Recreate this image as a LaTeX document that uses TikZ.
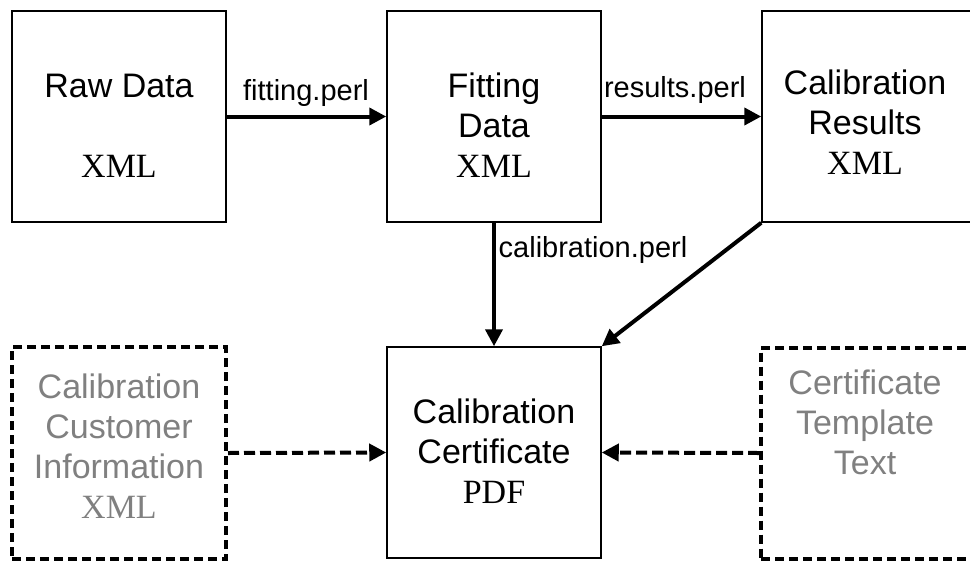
\documentclass[tikz,border=0pt]{standalone}
\usepackage{fontspec}
\setmainfont{Liberation Sans}
\newfontfamily\serifxml{Liberation Serif}
\usetikzlibrary{arrows.meta}
\definecolor{ghost}{HTML}{808080}

\begin{document}
\begin{tikzpicture}[x=1pt,y=-1pt,
    box/.style={draw,line width=1.5pt,minimum width=214pt,minimum height=211pt,inner sep=0pt},
    extbox/.style={box,line width=4pt,dash pattern=on 9pt off 5pt},
    txt/.style={align=center,font=\fontsize{34}{40}\selectfont},
    lbl/.style={font=\fontsize{29}{33}\selectfont},
    flow/.style={line width=4pt,-{Triangle[length=17pt,width=17pt]}},
    extflow/.style={flow,dash pattern=on 11pt off 5pt}]
        \useasboundingbox (0,0) rectangle (970,563);
        % boxes
        \node[box] (raw) at (119,116.5){};
        \node[box] (fit) at (494,116.5){};
        \node[box,minimum width=210pt] (res) at (867,116.5){};
        \node[box] (cert) at (494,452.5){};
        \node[extbox,minimum height=212pt] (cust) at (119,453){};
        \node[extbox] (tmpl) at (868,453){};
        % texts
        \node[txt] (rawtxt) at (119,125.5){Raw Data\\\mbox{}\\{\serifxml XML}};
        \node[txt] (fittxt) at (494,125){Fitting\\Data\\{\serifxml XML}};
        \node[txt] (restxt) at (865,122){Calibration\\Results\\{\serifxml XML}};
        \node[txt] (certtxt) at (494,451){Calibration\\Certificate\\{\serifxml PDF}};
        \node[txt,text=ghost] (custtxt) at (119,446){Calibration\\Customer\\Information\\{\serifxml XML}};
        \node[txt,text=ghost] (tmpltxt) at (865,422){Certificate\\Template\\Text};
        % connectors
        \draw[flow] (raw.east) -- (fit.west);
        \draw[flow] (fit.east) -- (res.west);
        \draw[flow] (fit.south) -- (cert.north);
        \draw[flow] (res.south west) -- (cert.north east);
        \draw[extflow] (cust.east) -- (cert.west);
        \draw[extflow] (tmpl.west) -- (cert.east);
        \node[lbl] (fitlbl) at (306,93){fitting.perl};
        \node[lbl] (reslbl) at (675,89.5){results.perl};
        \node[lbl] (callbl) at (593,249.5){calibration.perl};
    \end{tikzpicture}
\end{document}
